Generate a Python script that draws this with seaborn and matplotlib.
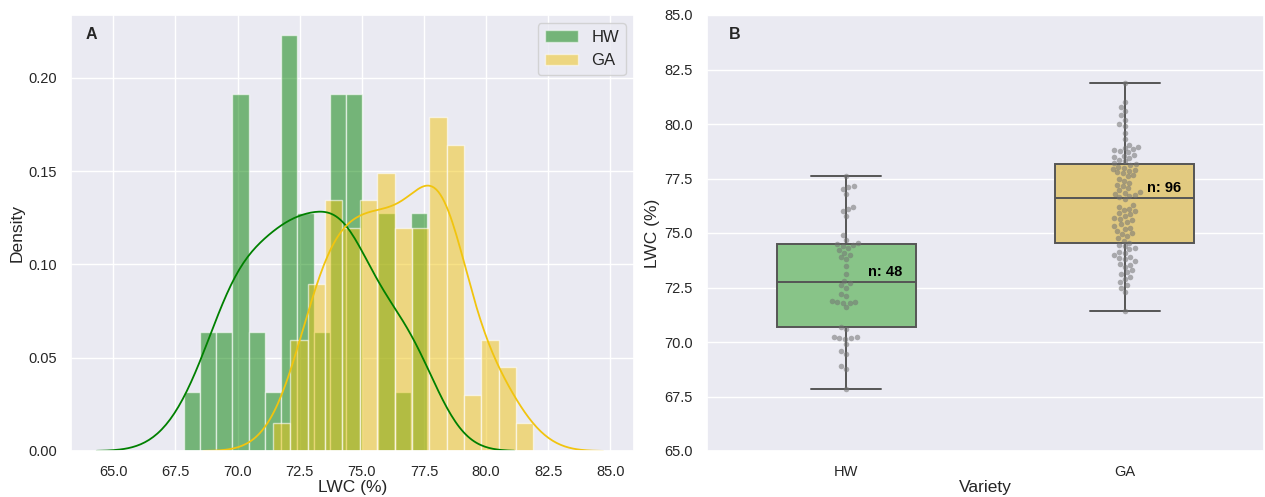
import numpy as np
import pandas as pd
import matplotlib
matplotlib.use("Agg")
import matplotlib.pyplot as plt
from matplotlib.patches import Patch
import seaborn as sns

# ---- data (LWC %) ----
hw = [67.83, 68.78, 68.88, 69.47, 69.60, 69.90, 70.15, 70.20, 70.20, 70.25, 70.25,
      70.60, 70.70, 71.59, 71.80, 71.80, 71.85, 71.85, 71.90, 72.10, 72.20,
      72.50, 72.60, 72.70, 72.80, 73.10, 73.50,
      73.80, 73.90, 74.00, 74.10, 74.20, 74.30,
      74.40, 74.45, 74.50, 74.55, 74.70, 74.90,
      75.80, 76.00, 76.10, 76.20, 76.80, 77.00, 77.10, 77.15, 77.63]
ga = [71.43,
      72.30, 72.50, 72.60, 72.75,
      72.90, 73.00, 73.10, 73.20, 73.30, 73.45,
      73.55, 73.60, 73.70, 73.80, 73.85, 73.90, 74.00, 74.10, 74.15,
      74.25, 74.30, 74.40, 74.45, 74.55, 74.65, 74.75, 74.85,
      74.95, 75.00, 75.10, 75.20, 75.25, 75.30, 75.40, 75.50, 75.60,
      75.65, 75.70, 75.80, 75.85, 75.90, 76.00, 76.05, 76.10, 76.20, 76.28,
      76.55, 76.65, 76.70, 76.75, 76.80, 76.85, 76.90, 76.95,
      77.05, 77.15, 77.20, 77.30, 77.40, 77.50, 77.60, 77.65,
      77.75, 77.80, 77.85, 77.90, 77.95, 78.00, 78.05, 78.10, 78.15, 78.20, 78.30, 78.35,
      78.45, 78.50, 78.55, 78.60, 78.70, 78.75, 78.80, 78.85, 78.90, 78.95, 79.05,
      79.30, 79.60,
      79.90, 80.00, 80.20, 80.40,
      80.60, 80.80, 81.00,
      81.90]
varieties = ["HW", "GA"]
colors = {"HW": "green", "GA": "#f1c40f"}
box_colors = {"HW": "#88c488", "GA": "#e2ca80"}

df = pd.DataFrame({
    "Variety": ["HW"] * len(hw) + ["GA"] * len(ga),
    "LWC (%)": hw + ga,
})

sns.set_theme(style="darkgrid")
plt.rcParams["font.family"] = ["Liberation Sans", "DejaVu Sans"]

fig = plt.figure(figsize=(12.65, 4.97), dpi=100)
axA = fig.add_axes([71 / 1265, 46 / 497, 563 / 1265, 436 / 497])
axB = fig.add_axes([707 / 1265, 46 / 497, 557 / 1265, 436 / 497])

# ---- Panel A: histograms + KDE ----
for v, vals in (("HW", hw), ("GA", ga)):
    sns.histplot(x=vals, bins=15, stat="density", color=colors[v], alpha=0.5,
                 edgecolor=(1, 1, 1, 0.6), linewidth=1, ax=axA)
    sns.kdeplot(x=vals, cut=3, color=colors[v], linewidth=1.3, ax=axA)

axA.set_xlim(63.3, 85.95)
axA.set_ylim(0, 0.2337)
axA.set_xticks(np.arange(65, 85.1, 2.5))
axA.set_yticks(np.arange(0, 0.201, 0.05))
axA.set_xticklabels([f"{t:.1f}" for t in np.arange(65, 85.1, 2.5)])
axA.set_yticklabels([f"{t:.2f}" for t in np.arange(0, 0.201, 0.05)])
axA.set_xlabel("LWC (%)", fontsize=12.5, labelpad=1)
axA.set_ylabel("Density", fontsize=12.5, labelpad=3)
axA.tick_params(labelsize=10.5, pad=4)
handles = [Patch(facecolor=colors[v], alpha=0.5, label=v) for v in varieties]
axA.legend(handles=handles, loc="upper right", fontsize=12, frameon=True)
axA.text(0.037, 0.955, "A", transform=axA.transAxes, fontsize=11.5,
         fontweight="bold", va="center", ha="center")

# ---- Panel B: boxplot + swarm ----
sns.boxplot(data=df, x="Variety", y="LWC (%)", order=varieties,
            hue="Variety", palette=box_colors, saturation=1, width=0.5,
            linecolor="#555555", linewidth=1.4, showfliers=False,
            whis=np.inf, legend=False, ax=axB)
sns.swarmplot(data=df, x="Variety", y="LWC (%)", order=varieties,
              color="0.45", alpha=0.55, size=4, ax=axB)
for i, v in enumerate(varieties):
    vals = df.loc[df["Variety"] == v, "LWC (%)"]
    axB.text(i + 0.14, vals.median() + 0.45, f"n: {len(vals)}", ha="center",
             va="center", fontsize=10.5, fontweight="bold", color="black")
axB.set_ylim(65, 85)
axB.set_yticks(np.arange(65, 85.1, 2.5))
axB.set_yticklabels([f"{t:.1f}" for t in np.arange(65, 85.1, 2.5)])
axB.set_xlabel("Variety", fontsize=12.5, labelpad=1)
axB.set_ylabel("LWC (%)", fontsize=12.5, labelpad=3)
axB.tick_params(labelsize=10.5, pad=4)
axB.text(0.05, 0.955, "B", transform=axB.transAxes, fontsize=11.5,
         fontweight="bold", va="center", ha="center")

fig.savefig("out.png", dpi=100)
